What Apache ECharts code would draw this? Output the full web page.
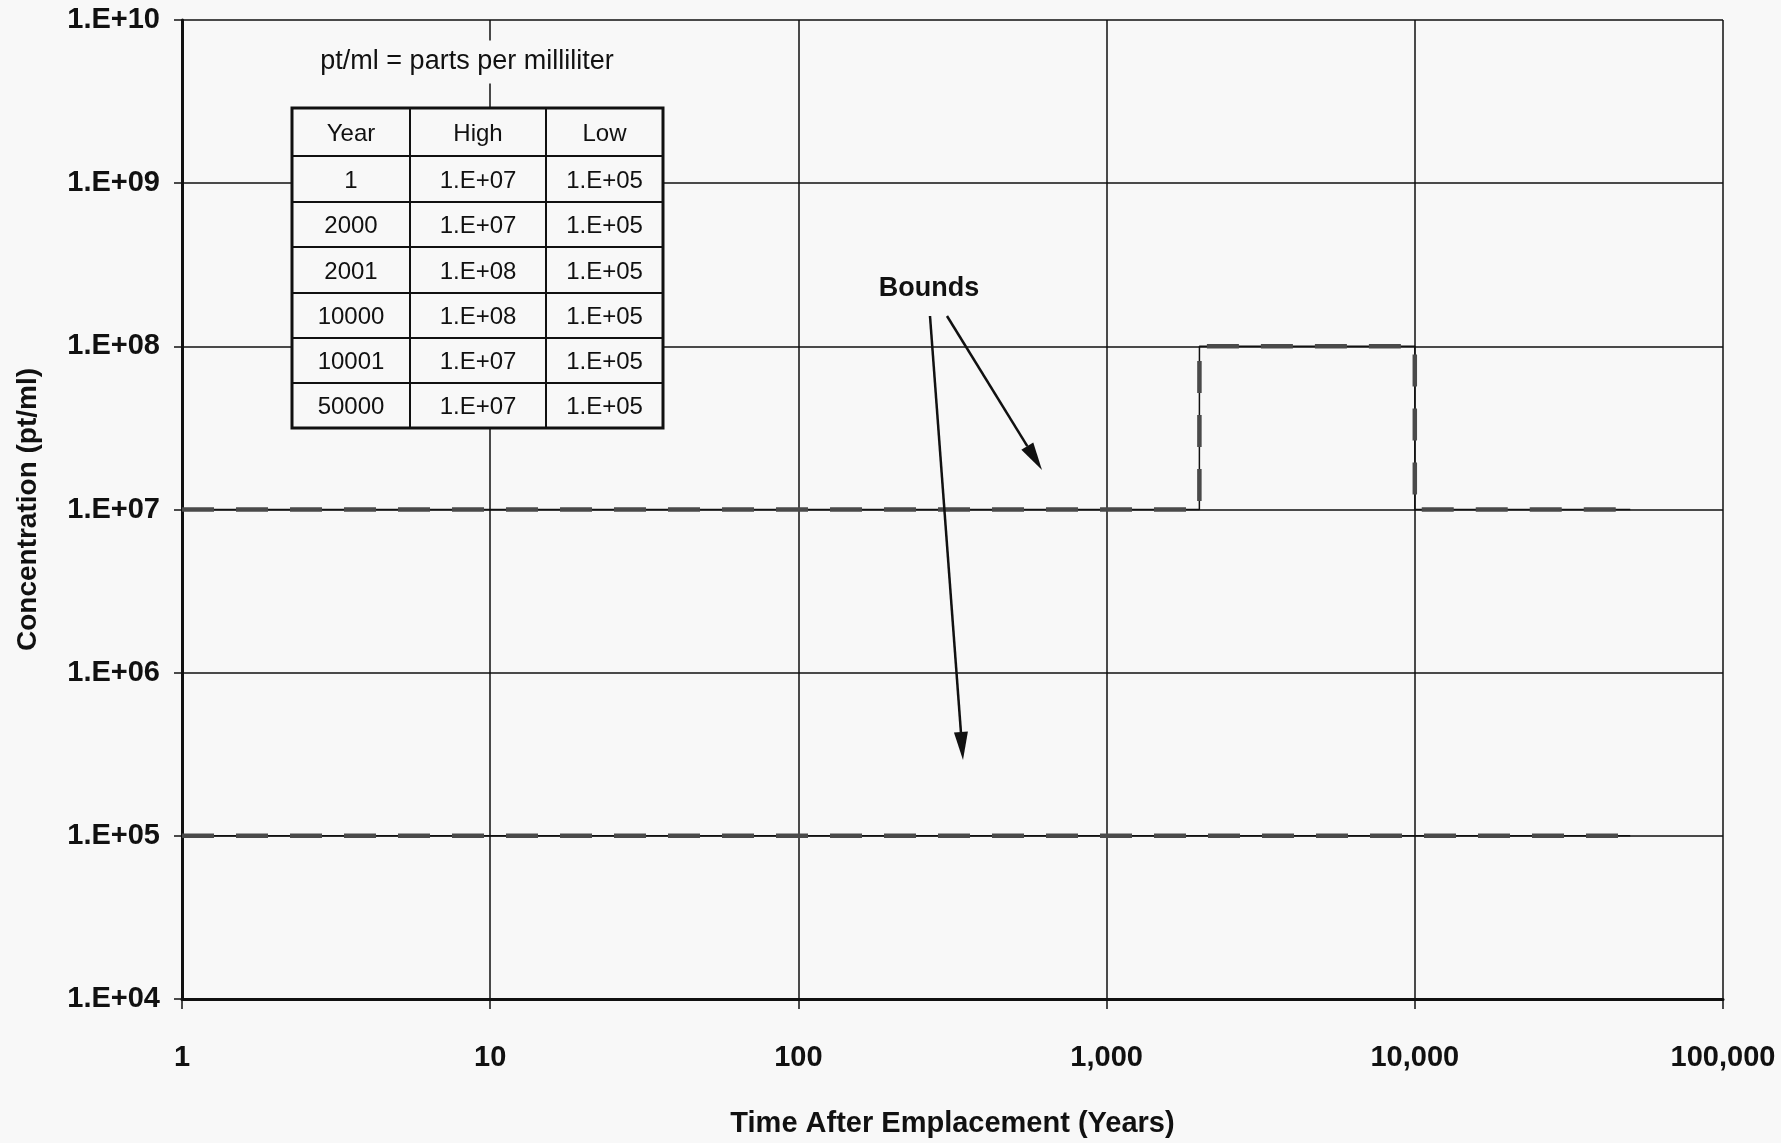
<!DOCTYPE html>
<html>
<head>
<meta charset="utf-8">
<script src="https://cdn.jsdelivr.net/npm/echarts@6/dist/echarts.min.js"></script>
<style>
  html, body { margin: 0; padding: 0; background: #f8f8f8; }
  #main { width: 1781px; height: 1143px; }
</style>
</head>
<body>
<div id="main"></div>
<script>
var years = [1, 2000, 2001, 10000, 10001, 50000];
var highValues = [1e7, 1e7, 1e8, 1e8, 1e7, 1e7];
var lowValues = [1e5, 1e5, 1e5, 1e5, 1e5, 1e5];
var tableHeader = ["Year", "High", "Low"];

var bg = "#f8f8f8";
var font = "'Liberation Sans', Arial, sans-serif";
var TOP = 100;

function sci(v) {
  var e = Math.round(Math.log10(v));
  return "1.E" + (e < 0 ? "-" : "+") + String(Math.abs(e)).padStart(2, "0");
}

function pairs(xs, ys) {
  return xs.map(function (x, i) { return [x, ys[i]]; });
}

var chartDom = document.getElementById("main");
var myChart = echarts.init(chartDom);

// inset table, built from the same arrays
function buildTable() {
  var colX = [292, 410, 546, 663];
  var rowY = [108, 156, 202, 247, 293, 338, 383, 428];
  var rows = [tableHeader].concat(years.map(function (y, i) {
    return [String(y), sci(highValues[i]), sci(lowValues[i])];
  }));
  var els = [];
  els.push({
    type: "rect", z: TOP,
    shape: { x: colX[0], y: rowY[0], width: colX[3] - colX[0], height: rowY[7] - rowY[0] },
    style: { fill: bg, stroke: "#111", lineWidth: 3 }
  });
  for (var r = 1; r < rowY.length - 1; r++) {
    els.push({ type: "line", z: TOP + 1, shape: { x1: colX[0], y1: rowY[r], x2: colX[3], y2: rowY[r] },
      style: { stroke: "#111", lineWidth: 2 } });
  }
  for (var c = 1; c < colX.length - 1; c++) {
    els.push({ type: "line", z: TOP + 1, shape: { x1: colX[c], y1: rowY[0], x2: colX[c], y2: rowY[7] },
      style: { stroke: "#111", lineWidth: 2 } });
  }
  rows.forEach(function (row, ri) {
    row.forEach(function (txt, ci) {
      els.push({
        type: "text", z: TOP + 1,
        x: (colX[ci] + colX[ci + 1]) / 2,
        y: (rowY[ri] + rowY[ri + 1]) / 2 + 2,
        style: { text: txt, fill: "#111", font: "24px " + font, align: "center", verticalAlign: "middle" }
      });
    });
  });
  return els;
}

function arrow(x1, y1, x2, y2) {
  var a = Math.atan2(y2 - y1, x2 - x1);
  var len = 28, half = 7;
  var bx = x2 - len * Math.cos(a), by = y2 - len * Math.sin(a);
  var px = -Math.sin(a) * half, py = Math.cos(a) * half;
  return [
    { type: "line", z: TOP, shape: { x1: x1, y1: y1, x2: bx, y2: by }, style: { stroke: "#111", lineWidth: 2.5 } },
    { type: "polygon", z: TOP, shape: { points: [[x2, y2], [bx + px, by + py], [bx - px, by - py]] }, style: { fill: "#111" } }
  ];
}

var graphics = buildTable()
  .concat([
    {
      type: "text", x: 467, y: 62, z: TOP,
      style: { text: "pt/ml = parts per milliliter", fill: "#111", font: "27px " + font,
        align: "center", verticalAlign: "middle", backgroundColor: bg, padding: [8, 4] }
    },
    {
      type: "text", x: 929, y: 289, z: TOP,
      style: { text: "Bounds", fill: "#111", font: "bold 27px " + font, align: "center", verticalAlign: "middle" }
    }
  ])
  .concat(arrow(930, 316, 963, 760))
  .concat(arrow(947, 316, 1042, 470));

var axisText = { color: "#111", fontFamily: font, fontWeight: "bold", fontSize: 29 };

var option = {
  backgroundColor: bg,
  animation: false,
  grid: { left: 182, right: 58, top: 20, bottom: 141 },
  xAxis: {
    type: "log",
    logBase: 10,
    min: 1,
    max: 100000,
    name: "Time After Emplacement (Years)",
    nameLocation: "middle",
    nameGap: 110,
    nameTextStyle: axisText,
    axisLine: { lineStyle: { color: "#111", width: 3 } },
    axisTick: { inside: false, length: 10, lineStyle: { color: "#111", width: 1.5 } },
    axisLabel: Object.assign({ margin: 44, formatter: function (v) { return Number(v).toLocaleString("en-US"); } }, axisText),
    splitLine: { show: true, lineStyle: { color: "#111", width: 1.5 } },
    minorTick: { show: false }
  },
  yAxis: {
    type: "log",
    logBase: 10,
    min: 1e4,
    max: 1e10,
    name: "Concentration (pt/ml)",
    nameLocation: "middle",
    nameGap: 140,
    nameTextStyle: Object.assign({}, axisText, { fontSize: 28 }),
    axisLine: { lineStyle: { color: "#111", width: 3 } },
    axisTick: { inside: false, length: 8, lineStyle: { color: "#111", width: 1.5 } },
    axisLabel: Object.assign({ margin: 22, formatter: sci }, axisText),
    splitLine: { show: true, lineStyle: { color: "#111", width: 1.5 } }
  },
  series: [
    {
      name: "High", type: "line", showSymbol: false, z: 3,
      data: pairs(years, highValues),
      lineStyle: { color: "#111", width: 1.5 }
    },
    {
      name: "High bound", type: "line", showSymbol: false, z: 4,
      data: pairs(years, highValues),
      lineStyle: { color: "#4a4a4a", width: 4.5, type: [32, 22] }
    },
    {
      name: "Low", type: "line", showSymbol: false, z: 3,
      data: pairs(years, lowValues),
      lineStyle: { color: "#111", width: 1.5 }
    },
    {
      name: "Low bound", type: "line", showSymbol: false, z: 4,
      data: pairs(years, lowValues),
      lineStyle: { color: "#4a4a4a", width: 4.5, type: [32, 22] }
    }
  ],
  graphic: graphics
};

option && myChart.setOption(option);
</script>
</body>
</html>
